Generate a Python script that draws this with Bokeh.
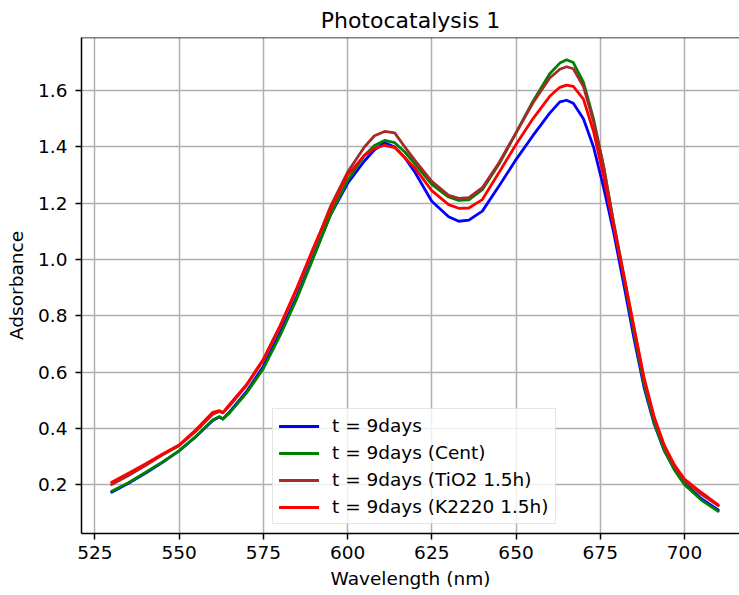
from bokeh.plotting import figure
from bokeh.models import FixedTicker, Legend, LegendItem, Span, PrintfTickFormatter
from bokeh.embed import file_html
from bokeh.resources import INLINE

title = "Photocatalysis 1"
x_label = "Wavelength (nm)"
y_label = "Adsorbance"
x_ticks = [525, 550, 575, 600, 625, 650, 675, 700]
y_ticks = [0.2, 0.4, 0.6, 0.8, 1.0, 1.2, 1.4, 1.6]

wl = [530, 535, 540, 545, 550, 555, 560, 562, 563, 565,
      570, 575, 580, 585, 590, 595, 600, 605,
      608, 611, 614, 617, 620,
      625, 630, 633, 636, 640, 645, 650, 655, 660,
      663, 665, 667, 670, 673, 676, 679, 682, 685, 688, 691, 694, 697, 700,
      705, 710]

abs_9days = [0.173, 0.205, 0.240, 0.278, 0.320, 0.370, 0.428, 0.440, 0.433, 0.458,
             0.530, 0.620, 0.740, 0.870, 1.015, 1.160, 1.270, 1.350,
             1.390, 1.415, 1.400, 1.362, 1.310,
             1.207, 1.152, 1.136, 1.140, 1.172, 1.262, 1.355, 1.440, 1.520,
             1.560, 1.566, 1.555, 1.500, 1.400, 1.255, 1.095, 0.910, 0.720, 0.545, 0.415, 0.320, 0.255, 0.205,
             0.150, 0.110]

abs_cent = [0.176, 0.207, 0.243, 0.280, 0.320, 0.372, 0.430, 0.442, 0.433, 0.455,
            0.525, 0.612, 0.730, 0.862, 1.010, 1.160, 1.280, 1.370,
            1.405, 1.423, 1.415, 1.382, 1.340,
            1.267, 1.222, 1.210, 1.212, 1.248, 1.340, 1.450, 1.562, 1.660,
            1.698, 1.710, 1.700, 1.630, 1.500, 1.330, 1.125, 0.935, 0.740, 0.555, 0.420, 0.322, 0.252, 0.200,
            0.145, 0.105]

abs_tio2 = [0.200, 0.232, 0.268, 0.305, 0.338, 0.390, 0.450, 0.460, 0.455, 0.480,
            0.552, 0.642, 0.762, 0.895, 1.040, 1.190, 1.310, 1.400,
            1.440, 1.455, 1.450, 1.400, 1.352,
            1.278, 1.228, 1.217, 1.220, 1.255, 1.345, 1.450, 1.556, 1.645,
            1.676, 1.685, 1.678, 1.615, 1.490, 1.330, 1.130, 0.945, 0.755, 0.570, 0.435, 0.335, 0.265, 0.215,
            0.165, 0.125]

abs_k2220 = [0.208, 0.240, 0.273, 0.308, 0.341, 0.395, 0.457, 0.463, 0.456, 0.485,
             0.555, 0.645, 0.765, 0.900, 1.045, 1.180, 1.300, 1.370,
             1.395, 1.406, 1.398, 1.362, 1.325,
             1.245, 1.195, 1.182, 1.183, 1.213, 1.310, 1.409, 1.500, 1.580,
             1.612, 1.620, 1.615, 1.570, 1.455, 1.295, 1.115, 0.940, 0.760, 0.580, 0.440, 0.340, 0.270, 0.220,
             0.172, 0.128]

series_labels = ["t = 9days", "t = 9days (Cent)", "t = 9days (TiO2 1.5h)", "t = 9days (K2220 1.5h)"]
series_colors = ["#0000ff", "#008000", "#a52a2a", "#ff0000"]
series_values = [abs_9days, abs_cent, abs_tio2, abs_k2220]

FONT = "DejaVu Sans"

p = figure(width=739, height=595, output_backend="svg", toolbar_location=None,
           x_range=(521.05, 716.32), y_range=(0.0262, 1.789),
           min_border_left=81, min_border_right=0, min_border_top=36, min_border_bottom=62)

p.title.text = title
p.title.align = "center"
p.title.text_font = FONT
p.title.text_font_size = "22px"
p.title.text_font_style = "normal"
p.title.text_color = "black"
p.title.offset = 4

p.outline_line_color = None
p.background_fill_color = "white"
p.border_fill_color = "white"

for ax in (p.xaxis[0], p.yaxis[0]):
    ax.axis_line_color = "black"
    ax.axis_line_width = 1.5
    ax.major_tick_line_color = "black"
    ax.major_tick_line_width = 1.5
    ax.major_tick_out = 6
    ax.major_tick_in = 0
    ax.minor_tick_line_color = None
    ax.major_label_text_font = FONT
    ax.major_label_text_font_size = "18.5px"
    ax.major_label_text_color = "black"
    ax.axis_label_text_font = FONT
    ax.axis_label_text_font_size = "18.5px"
    ax.axis_label_text_font_style = "normal"
    ax.axis_label_text_color = "black"

p.xaxis.axis_label = x_label
p.yaxis.axis_label = y_label
p.xaxis.ticker = FixedTicker(ticks=x_ticks)
p.yaxis.ticker = FixedTicker(ticks=y_ticks)
p.yaxis.formatter = PrintfTickFormatter(format="%.1f")
p.xaxis.major_label_standoff = 6
p.yaxis.major_label_standoff = 8
p.xaxis.axis_label_standoff = 6
p.yaxis.axis_label_standoff = 8

p.grid.grid_line_color = "#b0b0b0"
p.grid.grid_line_width = 1.5
p.xgrid.ticker = FixedTicker(ticks=x_ticks)
p.ygrid.ticker = FixedTicker(ticks=y_ticks)

top_spine = Span(location=1.789, dimension="width", line_color="black", line_width=1.5)
p.add_layout(top_spine)

items = []
for lab, col, vals in zip(series_labels, series_colors, series_values):
    r = p.line(wl, vals, line_color=col, line_width=2.8, line_join="round", line_cap="round")
    items.append(LegendItem(label=lab, renderers=[r]))

legend = Legend(items=items, location=(191, 9))
legend.label_text_font = FONT
legend.label_text_font_size = "18.5px"
legend.label_text_color = "black"
legend.glyph_width = 40
legend.glyph_height = 20
legend.label_height = 20
legend.spacing = 6
legend.padding = 6
legend.margin = 0
legend.label_standoff = 13
legend.background_fill_color = "white"
legend.background_fill_alpha = 0.8
legend.border_line_color = "#cccccc"
legend.border_line_width = 1.5
p.add_layout(legend)

open("out.html", "w").write(file_html(p, INLINE))
